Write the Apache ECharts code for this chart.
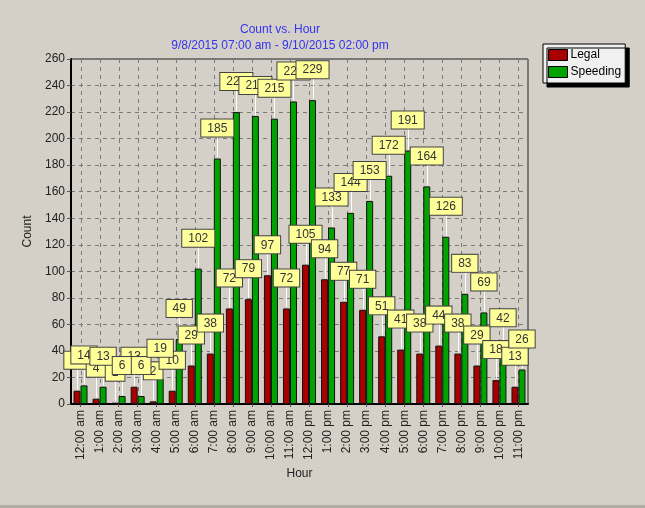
<!DOCTYPE html>
<html>
<head>
<meta charset="utf-8">
<script src="https://cdn.jsdelivr.net/npm/echarts@6/dist/echarts.min.js"></script>
<style>
  html, body { margin: 0; padding: 0; background: #d4d0c8; }
  #chart { width: 645px; height: 508px; }
</style>
</head>
<body>
<div id="chart"></div>
<script>
const hours = ['12:00 am', '1:00 am', '2:00 am', '3:00 am', '4:00 am', '5:00 am',
  '6:00 am', '7:00 am', '8:00 am', '9:00 am', '10:00 am', '11:00 am',
  '12:00 pm', '1:00 pm', '2:00 pm', '3:00 pm', '4:00 pm', '5:00 pm',
  '6:00 pm', '7:00 pm', '8:00 pm', '9:00 pm', '10:00 pm', '11:00 pm'];
const legal = [10, 4, 1, 13, 2, 10, 29, 38, 72, 79, 97, 72, 105, 94, 77, 71, 51, 41, 38, 44, 38, 29, 18, 13];
const speeding = [14, 13, 6, 6, 19, 49, 102, 185, 220, 217, 215, 228, 229, 133, 144, 153, 172, 191, 164, 126, 83, 69, 42, 26];
const yTicks = { min: 0, max: 260, step: 20 };

const font = 'Liberation Sans, Arial, sans-serif';
const barW = 7;
const labelGap = 22;

const chart = echarts.init(document.getElementById('chart'));

const valueLabel = {
  show: true,
  position: 'top',
  distance: labelGap,
  fontFamily: font,
  fontSize: 12,
  color: '#333',
  backgroundColor: '#ffff99',
  borderColor: '#444',
  borderWidth: 1,
  padding: [3, 6, 2, 6]
};

// white leader line from bar top up to its label
function leader(offset) {
  return function (params, api) {
    const p = api.coord([api.value(0), api.value(1)]);
    const x = Math.round(p[0] + offset) + 0.5;
    return {
      type: 'line',
      shape: { x1: x, y1: p[1] - 1, x2: x, y2: p[1] - labelGap },
      style: { stroke: '#ffffff', lineWidth: 1 }
    };
  };
}

// dashed vertical grid line through each category centre
function vGrid(params, api) {
  const top = api.coord([api.value(0), yTicks.max]);
  const bottom = api.coord([api.value(0), yTicks.min]);
  const x = Math.round(top[0]) + 0.5;
  return {
    type: 'line',
    shape: { x1: x, y1: top[1], x2: x, y2: bottom[1] },
    style: { stroke: '#7a7a7a', lineWidth: 1, lineDash: [4, 4] }
  };
}

const options = {
  backgroundColor: '#d4d0c8',
  animation: false,
  title: {
    text: 'Count vs. Hour',
    subtext: '9/8/2015 07:00 am - 9/10/2015 02:00 pm',
    left: 275,
    top: 19,
    textAlign: 'center',
    itemGap: 4,
    textStyle: { fontFamily: font, fontSize: 12, fontWeight: 'normal', color: '#3434f0' },
    subtextStyle: { fontFamily: font, fontSize: 12, color: '#3434f0' }
  },
  legend: {
    data: ['Legal', 'Speeding'],
    orient: 'vertical',
    left: 543,
    top: 44,
    width: 84,
    padding: [5, 4, 5, 5],
    itemGap: 5,
    itemWidth: 19,
    itemHeight: 11,
    icon: 'rect',
    backgroundColor: '#f0f0f0',
    borderColor: '#000',
    borderWidth: 1,
    shadowColor: '#000',
    shadowBlur: 0,
    shadowOffsetX: 4,
    shadowOffsetY: 4,
    textStyle: { fontFamily: font, fontSize: 12, color: '#000', padding: [0, 0, 0, -2] },
    itemStyle: { borderColor: '#000', borderWidth: 1 }
  },
  grid: {
    left: 71, right: 117, top: 59, bottom: 104,
    show: true, borderColor: '#222', borderWidth: 1
  },
  xAxis: {
    type: 'category',
    data: hours,
    name: 'Hour',
    nameLocation: 'middle',
    nameGap: 64,
    nameTextStyle: { fontFamily: font, fontSize: 12, color: '#222' },
    axisLine: { lineStyle: { color: '#000', width: 2 } },
    axisTick: { show: true, alignWithLabel: true, length: 3, lineStyle: { color: '#555' } },
    axisLabel: { rotate: 90, fontFamily: font, fontSize: 12, color: '#222', margin: 6 },
    splitLine: { show: false }
  },
  yAxis: {
    type: 'value',
    min: yTicks.min,
    max: yTicks.max,
    interval: yTicks.step,
    name: 'Count',
    nameLocation: 'middle',
    nameRotate: 90,
    nameGap: 32,
    nameTextStyle: { fontFamily: font, fontSize: 12, color: '#222' },
    axisLine: { show: true, lineStyle: { color: '#000', width: 2 } },
    axisTick: { show: true, length: 4, lineStyle: { color: '#555' } },
    axisLabel: { fontFamily: font, fontSize: 12, color: '#222', margin: 6 },
    splitLine: { lineStyle: { color: '#7a7a7a', type: [4, 4] } }
  },
  series: [
    {
      type: 'custom',
      data: hours.map((h, i) => [i]),
      renderItem: vGrid,
      silent: true,
      z: 0
    },
    {
      name: 'Legal',
      type: 'bar',
      data: legal,
      barWidth: barW,
      barGap: '0%',
      itemStyle: { color: '#a80000', borderColor: '#111', borderWidth: 1 },
      label: valueLabel,
      z: 2
    },
    {
      name: 'Speeding',
      type: 'bar',
      data: speeding,
      barWidth: barW,
      itemStyle: { color: '#00a400', borderColor: '#111', borderWidth: 1 },
      label: valueLabel,
      z: 2
    },
    {
      type: 'custom',
      data: legal.map((v, i) => [i, v]),
      renderItem: leader(-barW / 2),
      silent: true,
      z: 1
    },
    {
      type: 'custom',
      data: speeding.map((v, i) => [i, v]),
      renderItem: leader(barW / 2),
      silent: true,
      z: 1
    }
  ],
  graphic: [
    { type: 'rect', shape: { x: 0, y: 505, width: 645, height: 3 }, style: { fill: '#b2aea6' } }
  ]
};

chart.setOption(options);
</script>
</body>
</html>
